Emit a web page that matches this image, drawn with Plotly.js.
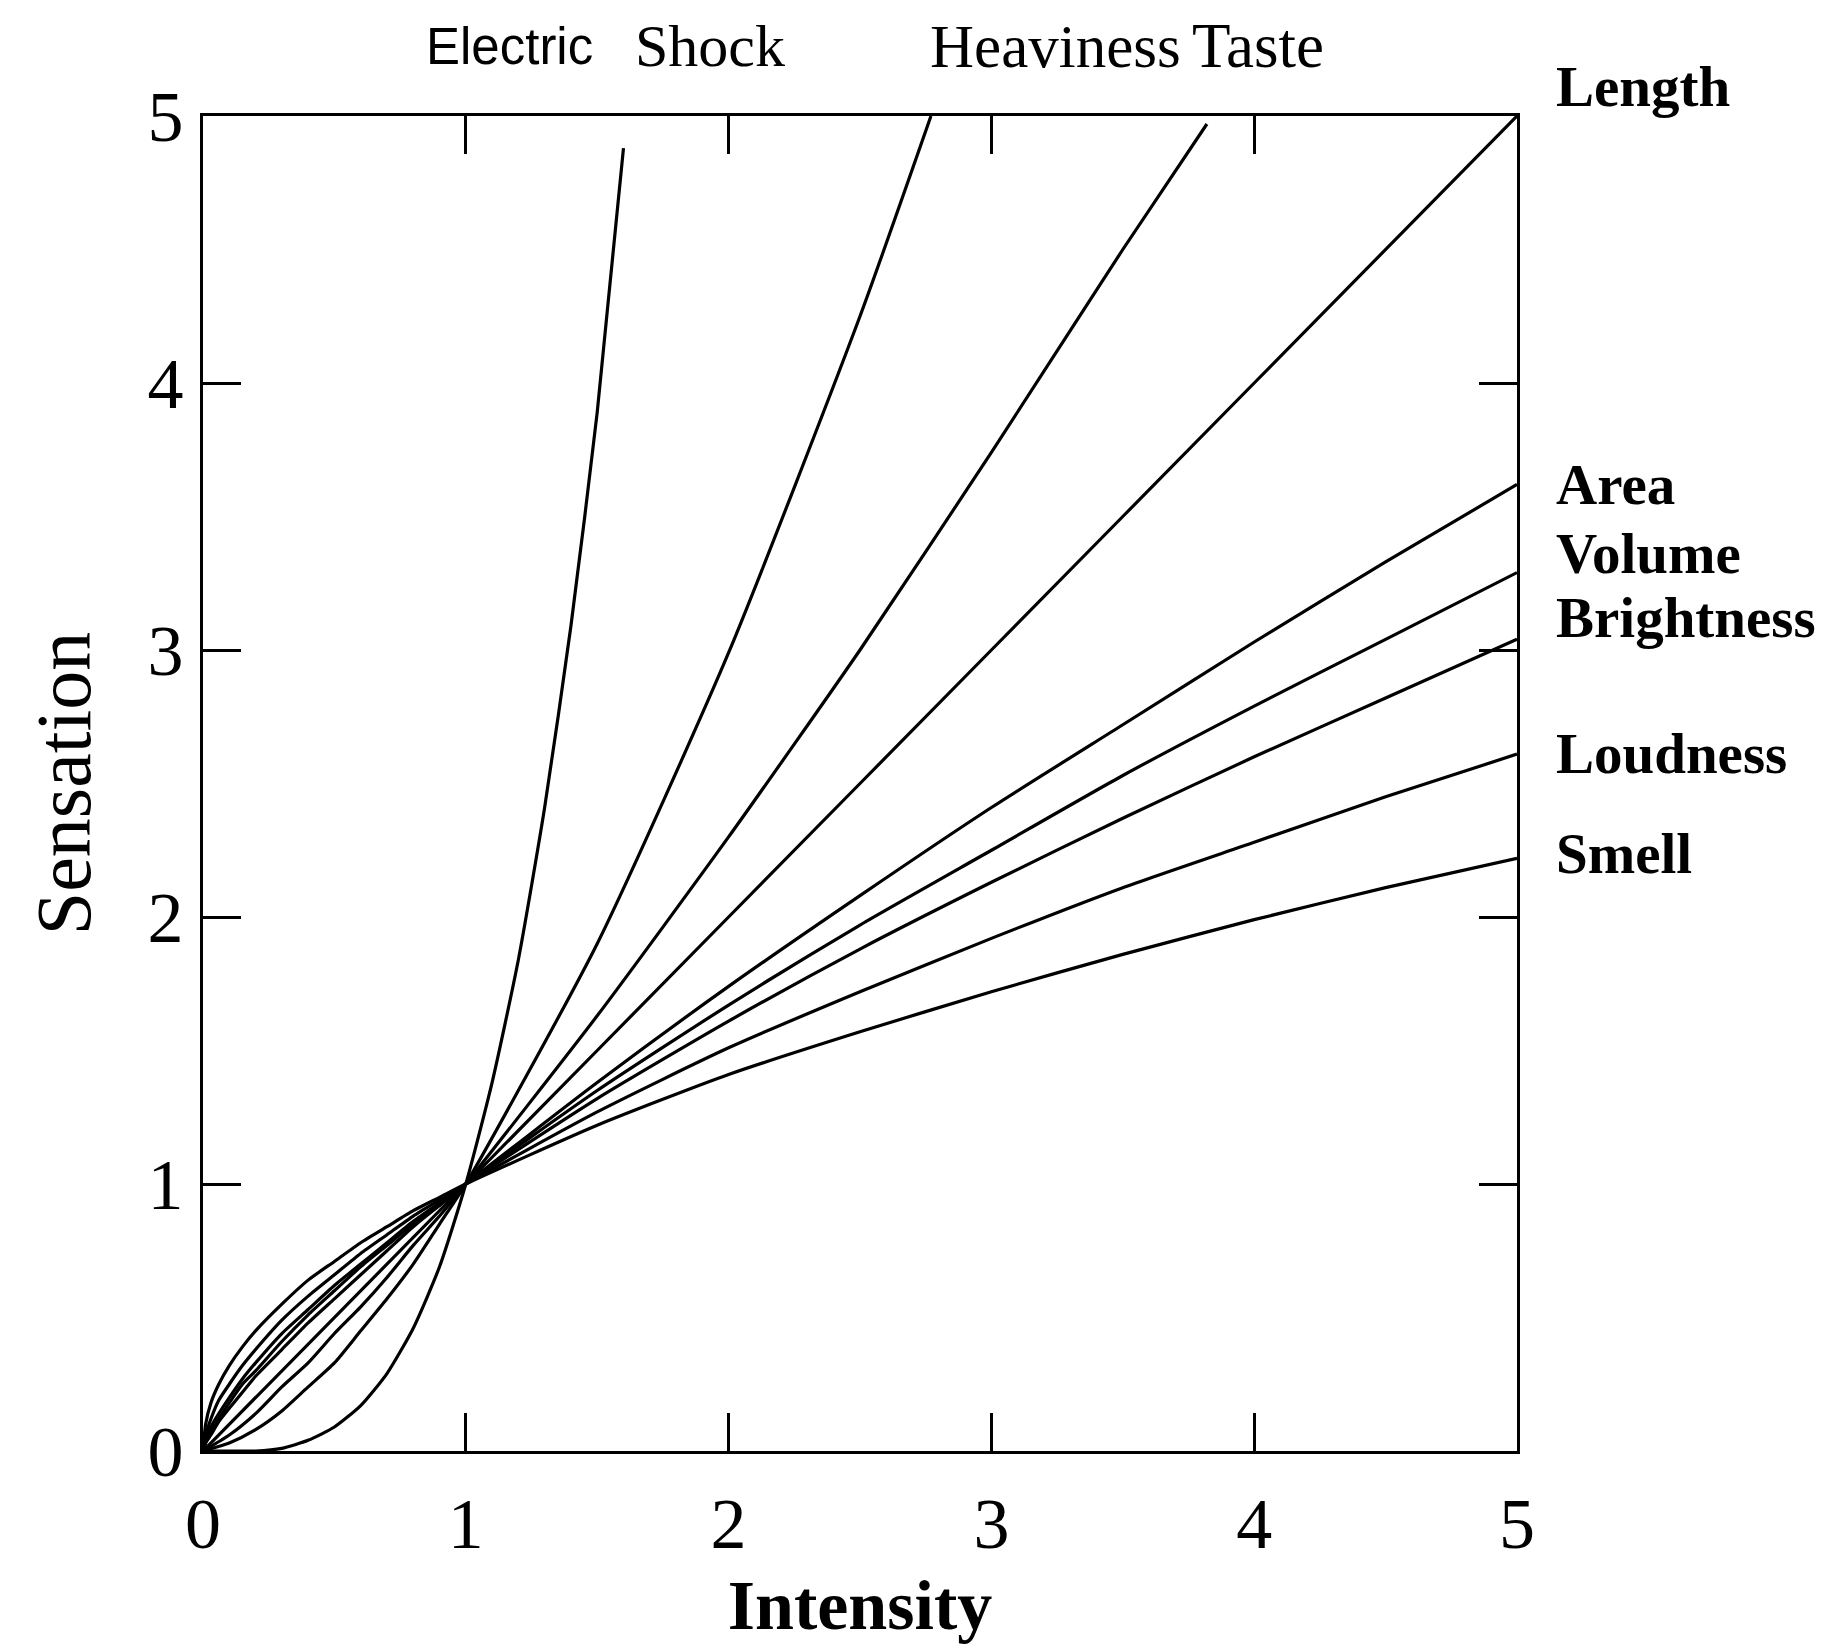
<!DOCTYPE html>
<html>
<head>
<meta charset="utf-8">
<script src="https://cdn.plot.ly/plotly-3.0.1.min.js"></script>
<style>html,body{margin:0;padding:0;background:#fff;}#chart{width:1835px;height:1644px;}</style>
</head>
<body>
<div id="chart"></div>
<script>
// ---- data ----
const tickValues = [0, 1, 2, 3, 4, 5];
const tickLabels = ['0', '1', '2', '3', '4', '5'];
const xTitle = 'Intensity';
const yTitle = 'Sensation';

const topLabels = ['Electric', 'Shock', 'Heaviness', 'Taste'];
const rightLabels = ['Length', 'Area', 'Volume', 'Brightness', 'Loudness', 'Smell'];

const xShock = [0, 0.2, 0.3, 0.4, 0.5, 0.6, 0.7, 0.8, 0.9, 1, 1.1, 1.2, 1.3, 1.4, 1.5, 1.6];
const yShock = [0, 0.00, 0.01, 0.04, 0.09, 0.17, 0.29, 0.46, 0.69, 1, 1.38, 1.84, 2.41, 3.09, 3.89, 4.88];

const xHeaviness = [0, 0.1, 0.2, 0.3, 0.4, 0.5, 0.6, 0.7, 0.8, 0.9, 1, 1.5, 2, 2.5, 2.77];
const yHeaviness = [0, 0.03, 0.08, 0.15, 0.24, 0.33, 0.45, 0.57, 0.70, 0.85, 1, 1.90, 2.99, 4.25, 5.00];

const xTaste = [0, 0.1, 0.2, 0.3, 0.4, 0.5, 0.6, 0.7, 0.8, 0.9, 1, 1.5, 2, 2.5, 3, 3.5, 3.82];
const yTaste = [0, 0.06, 0.14, 0.24, 0.33, 0.44, 0.54, 0.65, 0.77, 0.88, 1, 1.63, 2.30, 3.00, 3.74, 4.50, 4.97];

const xLength = [0, 1, 2, 3, 4, 5];
const yLength = [0, 1, 2, 3, 4, 5];

const xFan = [0, 0.01, 0.03, 0.06, 0.1, 0.15, 0.2, 0.3, 0.4, 0.5, 0.6, 0.7, 0.8, 0.9, 1, 1.5, 2, 2.5, 3, 3.5, 4, 4.5, 5];
const yArea = [0, 0.03, 0.06, 0.11, 0.16, 0.22, 0.28, 0.38, 0.48, 0.57, 0.66, 0.75, 0.84, 0.92, 1, 1.38, 1.74, 2.08, 2.41, 2.72, 3.03, 3.33, 3.62];
const yVolume = [0, 0.03, 0.07, 0.12, 0.18, 0.25, 0.30, 0.41, 0.51, 0.60, 0.69, 0.77, 0.85, 0.92, 1, 1.35, 1.67, 1.97, 2.25, 2.53, 2.79, 3.04, 3.29];
const yBrightness = [0, 0.04, 0.09, 0.14, 0.20, 0.27, 0.33, 0.44, 0.53, 0.62, 0.70, 0.78, 0.86, 0.93, 1, 1.32, 1.61, 1.88, 2.13, 2.37, 2.60, 2.82, 3.04];
const yLoudness = [0, 0.06, 0.12, 0.19, 0.25, 0.32, 0.38, 0.49, 0.58, 0.66, 0.74, 0.81, 0.88, 0.94, 1, 1.27, 1.51, 1.72, 1.92, 2.11, 2.28, 2.45, 2.61];
const ySmell = [0, 0.10, 0.18, 0.25, 0.32, 0.39, 0.45, 0.55, 0.64, 0.71, 0.78, 0.84, 0.90, 0.95, 1, 1.22, 1.41, 1.57, 1.72, 1.86, 1.99, 2.11, 2.22];

// ---- chart ----
const serif = 'Liberation Serif, Times New Roman, serif';
const lineStyle = {color: '#000', width: 3.2, shape: 'spline', smoothing: 0.6};

const series = [
  ['Electric Shock', xShock, yShock],
  ['Heaviness', xHeaviness, yHeaviness],
  ['Taste', xTaste, yTaste],
  ['Length', xLength, yLength],
  ['Area', xFan, yArea],
  ['Volume', xFan, yVolume],
  ['Brightness', xFan, yBrightness],
  ['Loudness', xFan, yLoudness],
  ['Smell', xFan, ySmell]
];

const traces = series.map(s => ({
  type: 'scatter', mode: 'lines', name: s[0], x: s[1], y: s[2],
  line: lineStyle, hoverinfo: 'skip', cliponaxis: false
}));

const topPos = [
  {x: 0.233, y: 1.0524, font: {family: 'Liberation Sans, Arial, sans-serif', size: 51, color: '#000'}},
  {x: 0.386, y: 1.0524, font: {family: serif, size: 60, color: '#000'}},
  {x: 0.649, y: 1.0524, font: {family: serif, size: 61, color: '#000'}},
  {x: 0.803, y: 1.0524, font: {family: serif, size: 63, color: '#000'}}
];
const rightPosY = [1.0223, 0.724, 0.672, 0.624, 0.5224, 0.4472];

const annotations = [];
topLabels.forEach((t, i) => annotations.push({
  text: t, xref: 'paper', yref: 'paper', x: topPos[i].x, y: topPos[i].y,
  xanchor: 'center', yanchor: 'middle', showarrow: false, font: topPos[i].font
}));
rightLabels.forEach((t, i) => annotations.push({
  text: t, xref: 'paper', yref: 'paper', x: 1.0278, y: rightPosY[i],
  xanchor: 'left', yanchor: 'middle', showarrow: false,
  font: {family: serif, size: 57, color: '#000', weight: 'bold'}
}));

const axisCommon = {
  range: [0, 5], autorange: false, fixedrange: true,
  showline: true, linecolor: '#000', linewidth: 3, mirror: 'ticks',
  ticks: 'inside', ticklen: 38, tickwidth: 3, tickcolor: '#000',
  tickvals: tickValues, ticktext: tickLabels,
  showgrid: false, zeroline: false,
  tickfont: {family: serif, size: 72, color: '#000'}
};

const layout = {
  width: 1835, height: 1644,
  margin: {l: 203, r: 318, t: 116, b: 193, pad: 0},
  paper_bgcolor: '#fff', plot_bgcolor: '#fff',
  showlegend: false,
  xaxis: Object.assign({}, axisCommon, {
    ticklabelstandoff: 8,
    title: {text: xTitle, standoff: 86, font: {family: serif, size: 70, color: '#000', weight: 'bold'}}
  }),
  yaxis: Object.assign({}, axisCommon, {
    ticklabelstandoff: 2,
    title: {text: yTitle, standoff: 32, font: {family: serif, size: 78, color: '#000'}}
  }),
  annotations: annotations
};

Plotly.newPlot('chart', traces, layout, {staticPlot: true, displayModeBar: false});
</script>
</body>
</html>
